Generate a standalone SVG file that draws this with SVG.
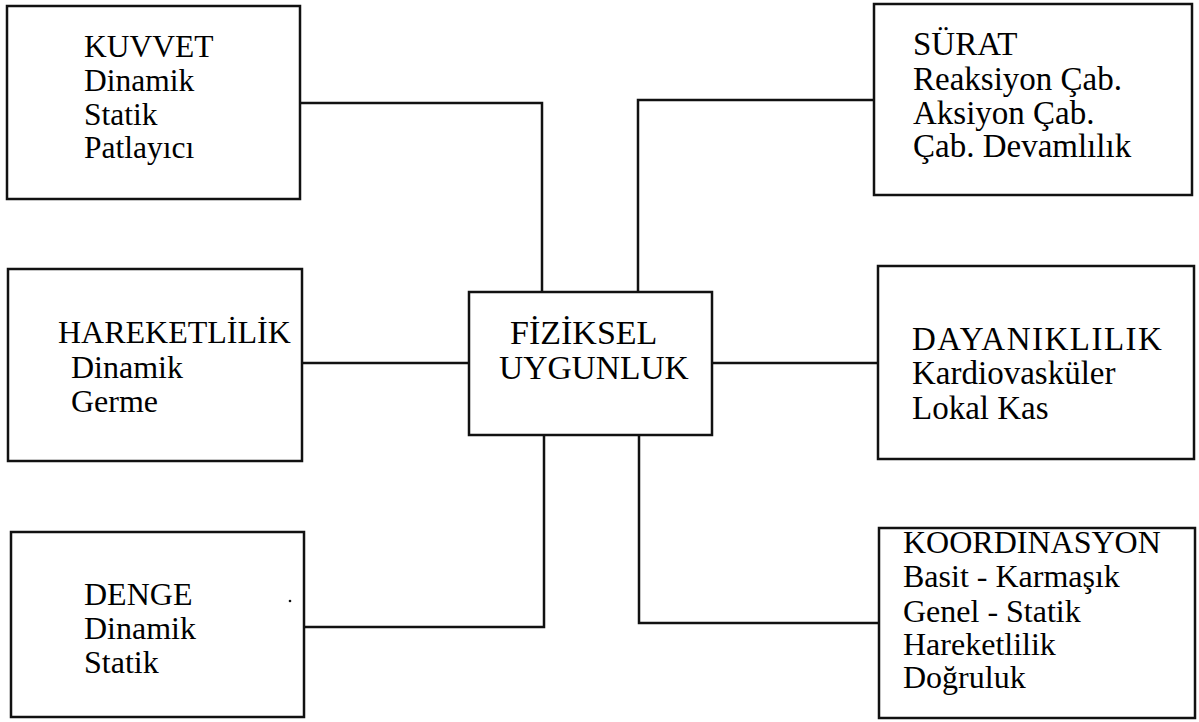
<svg xmlns="http://www.w3.org/2000/svg" width="1199" height="722" viewBox="0 0 1199 722">
<rect width="1199" height="722" fill="#fff"/>
<g id="connectors" fill="none" stroke="#111" stroke-width="2.5">
<polyline points="300,103 542,103 542,292"/>
<polyline points="874,100 638,100 638,292"/>
<line x1="302" y1="363" x2="469" y2="363"/>
<line x1="712" y1="363" x2="878" y2="363"/>
<polyline points="304,627 544,627 544,435"/>
<polyline points="879,623 639,623 639,435"/>
</g>
<g id="kuvvet">
<rect x="7" y="6" width="293" height="193" fill="#fff" stroke="#111" stroke-width="2.5"/>
<text x="84" y="57" font-family="Liberation Serif" font-size="31.5">KUVVET</text>
<text x="84" y="91" font-family="Liberation Serif" font-size="31.5">Dinamik</text>
<text x="84" y="125" font-family="Liberation Serif" font-size="31.5">Statik</text>
<text x="84" y="158" font-family="Liberation Serif" font-size="31.5">Patlayıcı</text>
</g>
<g id="hareketlilik">
<rect x="8" y="269" width="294" height="192" fill="#fff" stroke="#111" stroke-width="2.5"/>
<text x="58" y="343" font-family="Liberation Serif" font-size="32">HAREKETLİLİK</text>
<text x="71" y="378" font-family="Liberation Serif" font-size="32">Dinamik</text>
<text x="71" y="412" font-family="Liberation Serif" font-size="32">Germe</text>
</g>
<g id="denge">
<rect x="11" y="532" width="293" height="185" fill="#fff" stroke="#111" stroke-width="2.5"/>
<text x="84" y="605" font-family="Liberation Serif" font-size="32">DENGE</text>
<text x="84" y="639" font-family="Liberation Serif" font-size="32">Dinamik</text>
<text x="84" y="673" font-family="Liberation Serif" font-size="32">Statik</text>
<circle cx="290" cy="601" r="1.3" fill="#111"/>
</g>
<g id="fiziksel">
<rect x="469" y="292" width="243" height="143" fill="#fff" stroke="#111" stroke-width="2.5"/>
<text x="510" y="344" font-family="Liberation Serif" font-size="34">FİZİKSEL</text>
<text x="499" y="379" font-family="Liberation Serif" font-size="33.5">UYGUNLUK</text>
</g>
<g id="surat">
<rect x="874" y="4" width="318" height="191" fill="#fff" stroke="#111" stroke-width="2.5"/>
<text x="913" y="55" font-family="Liberation Serif" font-size="33">SÜRAT</text>
<text x="913" y="90" font-family="Liberation Serif" font-size="33">Reaksiyon Çab.</text>
<text x="913" y="124" font-family="Liberation Serif" font-size="33">Aksiyon Çab.</text>
<text x="913" y="157" font-family="Liberation Serif" font-size="33">Çab. Devamlılık</text>
</g>
<g id="dayaniklilik">
<rect x="878" y="266" width="316" height="193" fill="#fff" stroke="#111" stroke-width="2.5"/>
<text x="912" y="350" font-family="Liberation Serif" font-size="33" letter-spacing="1.5">DAYANIKLILIK</text>
<text x="912" y="384" font-family="Liberation Serif" font-size="33">Kardiovasküler</text>
<text x="912" y="419" font-family="Liberation Serif" font-size="33">Lokal Kas</text>
</g>
<g id="koordinasyon">
<rect x="879" y="528" width="316" height="190" fill="#fff" stroke="#111" stroke-width="2.5"/>
<text x="903" y="553" font-family="Liberation Serif" font-size="32">KOORDINASYON</text>
<text x="903" y="587" font-family="Liberation Serif" font-size="32">Basit - Karmaşık</text>
<text x="903" y="622" font-family="Liberation Serif" font-size="32">Genel - Statik</text>
<text x="903" y="655" font-family="Liberation Serif" font-size="32">Hareketlilik</text>
<text x="903" y="688" font-family="Liberation Serif" font-size="32">Doğruluk</text>
</g>
</svg>
